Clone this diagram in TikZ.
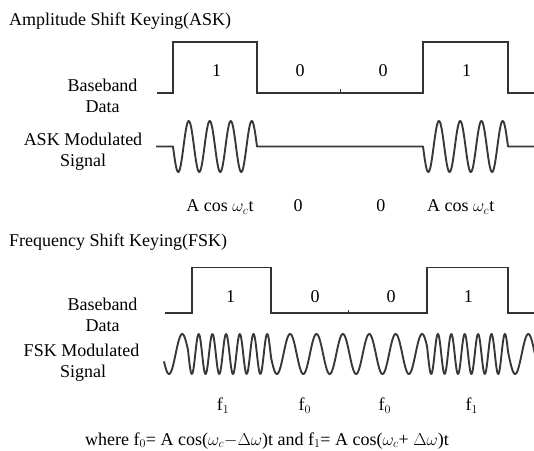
\documentclass[tikz,border=0pt]{standalone}
\usepackage{fontspec}
\setmainfont{Liberation Serif}
\usepackage{tikz}
\usetikzlibrary{positioning}

\tikzset{
	lbl/.style={inner sep=0pt, anchor=base, font=\fontsize{18}{21}\selectfont},
	ttl/.style={inner sep=0pt, anchor=base west, font=\fontsize{18}{21}\selectfont},
	datawave/.style={line width=1.3pt, draw=black!80},
	carrier/.style={line width=1.9pt, draw=black!78, line join=round},
}

\begin{document}
\begin{tikzpicture}[x=1pt, y=-1pt,
	declare function={fskphase(\x)=(\x<188) ? (-0.690+(\x-164)/26.4) : ((\x<271) ? (0.219+(\x-188)/13.7) : ((\x<427) ? (6.277+(\x-271)/26.4) : ((\x<508) ? (12.186+(\x-427)/13.4) : (18.231+(\x-508)/26.4))));}]
	\useasboundingbox (0,0) rectangle (534,450);

	% ASK: titles and labels
	\node[ttl] (asktitle) at (9,25.5) {Amplitude Shift Keying(ASK)};
	\node[lbl] (askbb) at (102.5,91.3) {Baseband};
	\node[lbl] (askdata) at (102.7,112.4) {Data};
	\node[lbl] (askmod) at (83,145.8) {ASK Modulated};
	\node[lbl] (asksig) at (83,166.9) {Signal};

	\node[lbl] (askbita) at (216.7,76.5) {1};
	\node[lbl] (askbitb) at (300,76.5) {0};
	\node[lbl] (askbitc) at (383,76.5) {0};
	\node[lbl] (askbitd) at (466.7,76.5) {1};

	\node[lbl] (askcara) at (220,211.5) {A cos $\omega_c$t};
	\node[lbl] (askzeroa) at (298,211.5) {0};
	\node[lbl] (askzerob) at (380.8,211.5) {0};
	\node[lbl] (askcarb) at (460.7,211.5) {A cos $\omega_c$t};

	% ASK: baseband data and modulated signal
	\draw[datawave] (157,93) -- (173,93) -- (173,42) -- (257,42) -- (257,93) -- (423,93)
		-- (423,42) -- (508,42) -- (508,93) -- (534,93);
	\draw[line width=1pt, black!80] (340,93) -- (340,88.5);
	\draw[carrier] (156,146.5) -- (173,146.5)
		-- plot[domain=173:257, samples=170] (\x, {146.5+25.5*sin(360/21*(\x-173))})
		-- (423,146.5)
		-- plot[domain=423:508, samples=170] (\x, {146.5+25.5*sin(360/21.25*(\x-423))})
		-- (534,146.5);

	% FSK: titles and labels
	\node[ttl] (fsktitle) at (9,246) {Frequency Shift Keying(FSK)};
	\node[lbl] (fskbb) at (102.5,310.5) {Baseband};
	\node[lbl] (fskdata) at (102.7,331.5) {Data};
	\node[lbl] (fskmod) at (81.5,356) {FSK Modulated};
	\node[lbl] (fsksig) at (83,377.5) {Signal};

	\node[lbl] (fskbita) at (230.6,302) {1};
	\node[lbl] (fskbitb) at (315,302) {0};
	\node[lbl] (fskbitc) at (391,302) {0};
	\node[lbl] (fskbitd) at (468.3,302) {1};

	\node[lbl] (fskfa) at (223,410.5) {f$_1$};
	\node[lbl] (fskfb) at (304.8,410.5) {f$_0$};
	\node[lbl] (fskfc) at (384.9,410.5) {f$_0$};
	\node[lbl] (fskfd) at (471.7,410.5) {f$_1$};

	% FSK: baseband data and modulated signal
	\draw[datawave] (165,313) -- (192,313) -- (192,267.5) -- (271,267.5) -- (271,313) -- (427,313)
		-- (427,267.5) -- (508,267.5) -- (508,313) -- (534,313);
	\draw[line width=1pt, black!80] (348,313) -- (348,310);
	\draw[carrier] plot[domain=164:536, samples=745] (\x, {354-20*cos(360*fskphase(\x))});

	% relation between f0, f1 and the carrier
	\node[lbl] (fskwhere) at (267,445) {where f$_0$= A cos($\omega_c$$-$$\Delta\omega$)t and f$_1$= A cos($\omega_c$+ $\Delta\omega$)t};
\end{tikzpicture}
\end{document}
